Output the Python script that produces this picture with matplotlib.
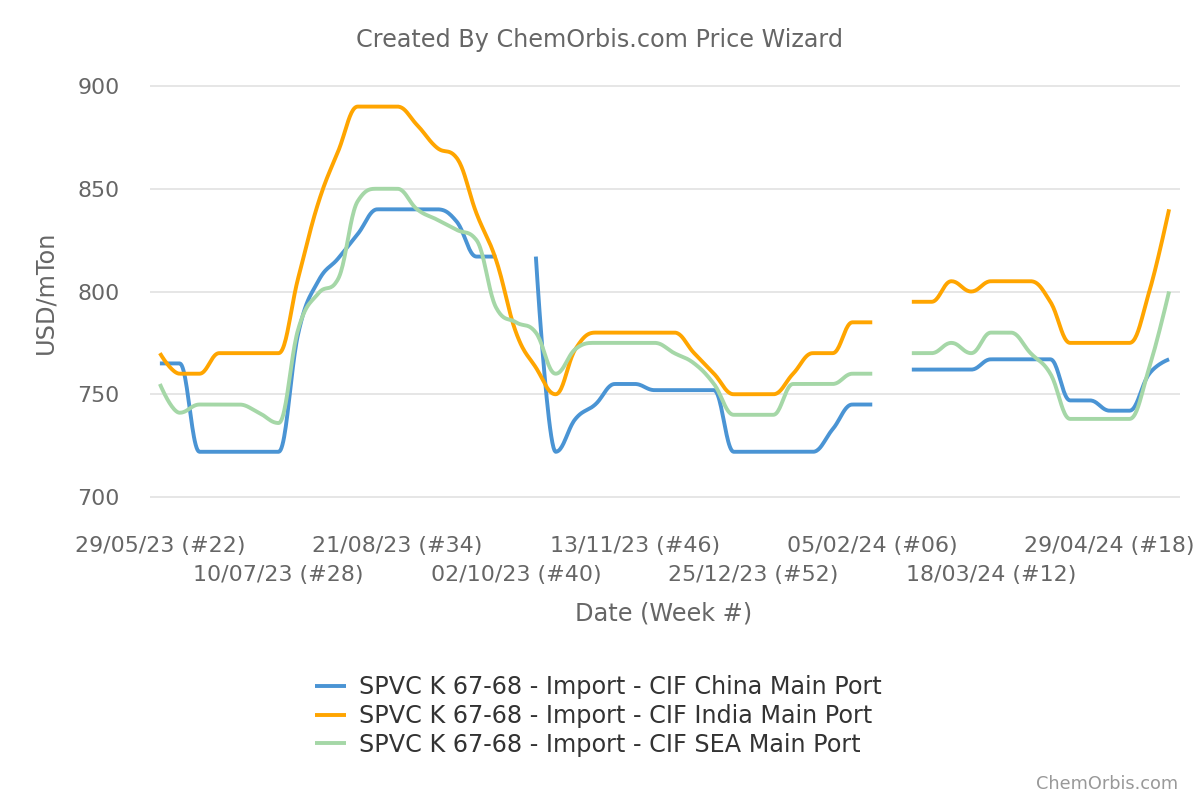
import numpy as np
import matplotlib
matplotlib.use("Agg")
import matplotlib.pyplot as plt

# weekly prices, 29/05/23 (#22) .. 20/05/24 (#21); None = no data
china = [765, 765, 722, 722, 722, 722, 722, 780, 805, 816, 828, 840, 840, 840, 840, 834, 817, 817,
         None, 817, 722, 738, 745, 755, 755, 752, 752, 752, 752, 722, 722, 722, 722, 722, 733, 745, 745,
         None, 762, 762, 762, 762, 767, 767, 767, 767, 747, 747, 742, 742, 760, 767]
india = [770, 760, 760, 770, 770, 770, 770, 807, 843, 868, 890, 890, 890, 881, 870, 865, 838, 815,
         780, 763, 750, 772, 780, 780, 780, 780, 780, 770, 760, 750, 750, 750, 760, 770, 770, 785, 785,
         None, 795, 795, 805, 800, 805, 805, 805, 795, 775, 775, 775, 775, 800, 840]
sea = [755, 741, 745, 745, 745, 741, 736, 782, 799, 806, 844, 850, 850, 840, 835, 830, 825, 792,
       785, 780, 760, 772, 775, 775, 775, 775, 770, 765, 755, 740, 740, 740, 755, 755, 755, 760, 760,
       None, 770, 770, 775, 770, 780, 780, 770, 760, 738, 738, 738, 738, 763, 800]

series_names = ["SPVC K 67-68 - Import - CIF China Main Port",
                "SPVC K 67-68 - Import - CIF India Main Port",
                "SPVC K 67-68 - Import - CIF SEA Main Port"]
colors = ["#4a94d4", "#ffa500", "#a5d7a7"]

tick_pos = [0, 6, 12, 18, 24, 30, 36, 42, 48]
tick_labels = ["29/05/23 (#22)", "10/07/23 (#28)", "21/08/23 (#34)", "02/10/23 (#40)",
               "13/11/23 (#46)", "25/12/23 (#52)", "05/02/24 (#06)", "18/03/24 (#12)",
               "29/04/24 (#18)"]


def spline_segment(xs, ys, n=24):
    # highcharts style spline through a run of points
    m = len(xs)
    if m == 1:
        return np.array(xs, float), np.array(ys, float)
    lc = [(xs[i], ys[i]) for i in range(m)]
    rc = [(xs[i], ys[i]) for i in range(m)]
    s, d = 1.5, 2.5
    for i in range(1, m - 1):
        px, py = xs[i], ys[i]
        lx, ly = xs[i - 1], ys[i - 1]
        nx, ny = xs[i + 1], ys[i + 1]
        lcx = (s * px + lx) / d
        lcy = (s * py + ly) / d
        rcx = (s * px + nx) / d
        rcy = (s * py + ny) / d
        corr = (rcy - lcy) * (rcx - px) / (rcx - lcx) + py - rcy
        lcy += corr
        rcy += corr
        if lcy > ly and lcy > py:
            lcy = max(ly, py); rcy = 2 * py - lcy
        elif lcy < ly and lcy < py:
            lcy = min(ly, py); rcy = 2 * py - lcy
        if rcy > ny and rcy > py:
            rcy = max(ny, py); lcy = 2 * py - rcy
        elif rcy < ny and rcy < py:
            rcy = min(ny, py); lcy = 2 * py - rcy
        lc[i] = (lcx, lcy)
        rc[i] = (rcx, rcy)
    t = np.linspace(0, 1, n)[:, None]
    out = [np.array([[xs[0], ys[0]]])]
    for i in range(1, m):
        p0 = np.array([xs[i - 1], ys[i - 1]])
        p1 = np.array(rc[i - 1])
        p2 = np.array(lc[i])
        p3 = np.array([xs[i], ys[i]])
        b = ((1 - t) ** 3) * p0 + 3 * ((1 - t) ** 2) * t * p1 + 3 * (1 - t) * t ** 2 * p2 + t ** 3 * p3
        out.append(b[1:])
    pts = np.vstack(out)
    return pts[:, 0], pts[:, 1]


def draw_series(ax, values, color, label):
    runs, cur = [], []
    for i, v in enumerate(values):
        if v is None:
            if cur:
                runs.append(cur)
            cur = []
        else:
            cur.append((i, v))
    if cur:
        runs.append(cur)
    for k, run in enumerate(runs):
        xs = [p[0] for p in run]
        ys = [p[1] for p in run]
        sx, sy = spline_segment(xs, ys)
        ax.plot(sx, sy, color=color, lw=2.8, solid_capstyle="butt",
                label=label if k == 0 else None, zorder=3)


fig = plt.figure(figsize=(12, 8), dpi=100)
ax = fig.add_axes([0.125, 0.35, 0.8583, 0.5625])

for vals, c, name in zip([china, india, sea], colors, series_names):
    draw_series(ax, vals, c, name)

ax.set_xlim(-0.5, 51.55)
ax.set_ylim(688.8, 907.8)
ax.set_yticks([700, 750, 800, 850, 900])
for v in [700, 750, 800, 850, 900]:
    ax.axhline(v, color="#e6e6e6", lw=1.4, zorder=1)
for sp in ax.spines.values():
    sp.set_visible(False)
ax.tick_params(axis="y", length=0, labelsize=15.9, labelcolor="#666666", pad=22)
ax.set_xticks(tick_pos)
ax.set_xticklabels([])
ax.tick_params(axis="x", length=0)

# staggered date labels
for i, (p, lab) in enumerate(zip(tick_pos, tick_labels)):
    yoff = -0.0578 if i % 2 == 0 else -0.1222
    ax.text(p, yoff, lab, transform=ax.get_xaxis_transform(), ha="center", va="center",
            fontsize=15.9, color="#666666")

fig.text(0.5, 1 - 40 / 800, "Created By ChemOrbis.com Price Wizard", ha="center", va="center",
         fontsize=17.2, color="#666666")
fig.text(664 / 1200, 1 - 613 / 800, "Date (Week #)", ha="center", va="center",
         fontsize=17.3, color="#666666")
fig.text(45 / 1200, 1 - 292 / 800, "USD/mTon", ha="center", va="center", rotation=90,
         fontsize=17.3, color="#666666")
fig.text(1178 / 1200, 1 - 784 / 800, "ChemOrbis.com", ha="right", va="center",
         fontsize=12.8, color="#999999")

leg = fig.legend(loc="center", bbox_to_anchor=(598 / 1200, 1 - 716 / 800), frameon=False,
                 fontsize=17.2, handlelength=1.3, handletextpad=0.55, labelspacing=0.2)
for t in leg.get_texts():
    t.set_color("#333333")

fig.savefig("out.png", dpi=100)
